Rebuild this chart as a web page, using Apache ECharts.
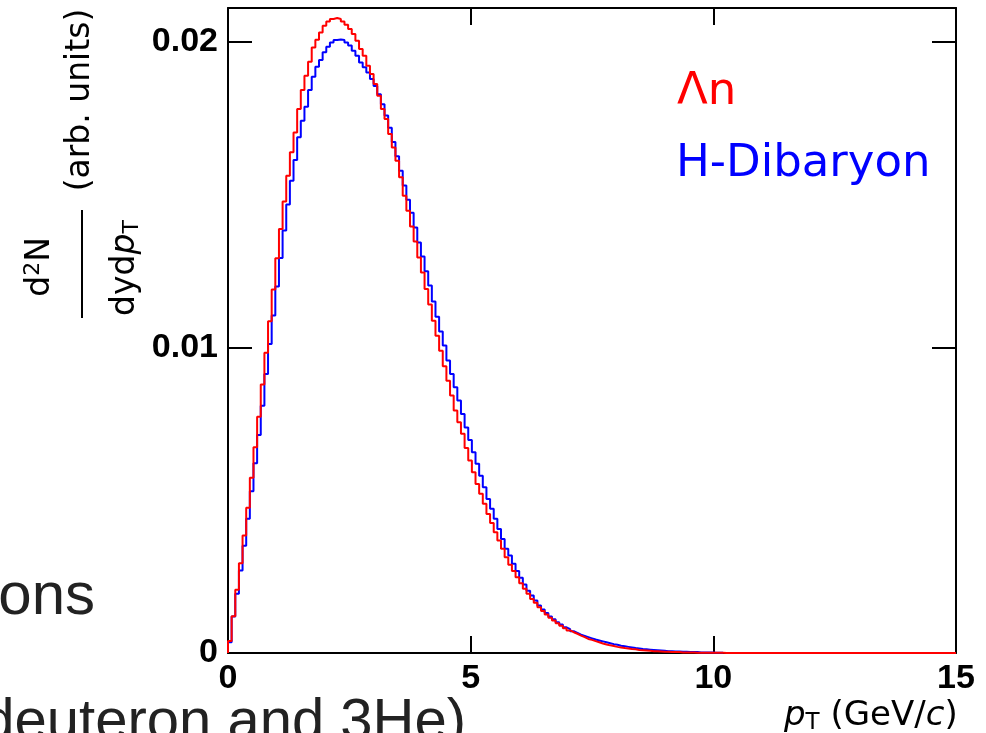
<!DOCTYPE html>
<html>
<head>
<meta charset="utf-8">
<script src="https://cdn.jsdelivr.net/npm/echarts@6/dist/echarts.min.js"></script>
<style>html,body{margin:0;padding:0;background:#fff;}#c{width:986px;height:733px;}</style>
</head>
<body>
<div id="c"></div>
<script>
// ---- data ----
const binWidth = 0.075; // GeV/c per histogram bin, bins start at pT = 0
const xTicks = [0, 5, 10, 15];
const yTicks = [0, 0.01, 0.02];
const seriesNames = ['\u039bn', 'H-Dibaryon'];

// Λn histogram contents (bins 0..199)
const lambdaN = [
  0.00039, 0.00120, 0.00207, 0.00294, 0.00384, 0.00475, 0.00573, 0.00673, 0.00773, 0.00878,
  0.00982, 0.01085, 0.01189, 0.01291, 0.01387, 0.01477, 0.01561, 0.01638, 0.01703, 0.01780,
  0.01842, 0.01888, 0.01934, 0.01981, 0.02006, 0.02030, 0.02052, 0.02066, 0.02074, 0.02077,
  0.02074, 0.02066, 0.02055, 0.02041, 0.02025, 0.02003, 0.01976, 0.01954, 0.01921, 0.01894,
  0.01861, 0.01823, 0.01780, 0.01747, 0.01698, 0.01654, 0.01610, 0.01556, 0.01496, 0.01447,
  0.01395, 0.01346, 0.01294, 0.01245, 0.01191, 0.01140, 0.01087, 0.01038, 0.00989, 0.00938,
  0.00891, 0.00842, 0.00793, 0.00755, 0.00717, 0.00671, 0.00630, 0.00591, 0.00553, 0.00521,
  0.00488, 0.00455, 0.00425, 0.00395, 0.00368, 0.00341, 0.00313, 0.00289, 0.00268, 0.00248,
  0.00228, 0.00210, 0.00194, 0.00177, 0.00164, 0.00150, 0.00137, 0.00126, 0.00115, 0.00106,
  0.00097, 0.00089, 0.00081, 0.00074, 0.00068, 0.00063, 0.00057, 0.00052, 0.00046, 0.00043,
  0.00039, 0.00035, 0.00031, 0.00028, 0.00025, 0.00023, 0.00020, 0.00018, 0.00016, 0.00015,
  0.00013, 0.00012, 0.00010, 0.00009, 0.00008, 0.00007, 0.00006, 0.00006, 0.00005, 0.00004,
  0.00004, 0.00003, 0.00003, 0.00003, 0.00002, 0.00002, 0.00002, 0.00002, 0.00001, 0.00001,
  0.00001, 0.00001, 0.00001, 0.00001, 0.00001, 0.00001, 0, 0, 0, 0,
  0, 0, 0, 0, 0, 0, 0, 0, 0, 0,
  0, 0, 0, 0, 0, 0, 0, 0, 0, 0,
  0, 0, 0, 0, 0, 0, 0, 0, 0, 0,
  0, 0, 0, 0, 0, 0, 0, 0, 0, 0,
  0, 0, 0, 0, 0, 0, 0, 0, 0, 0,
  0, 0, 0, 0, 0, 0, 0, 0, 0, 0
];

// H-Dibaryon histogram contents (bins 0..135)
const hDibaryon = [
  0.00035, 0.00119, 0.00194, 0.00270, 0.00351, 0.00439, 0.00529, 0.00621, 0.00713, 0.00809,
  0.00913, 0.01011, 0.01104, 0.01199, 0.01292, 0.01382, 0.01467, 0.01545, 0.01613, 0.01687,
  0.01741, 0.01787, 0.01842, 0.01885, 0.01918, 0.01940, 0.01965, 0.01983, 0.01997, 0.02005,
  0.02007, 0.02005, 0.01997, 0.01987, 0.01970, 0.01954, 0.01932, 0.01916, 0.01899, 0.01878,
  0.01855, 0.01828, 0.01795, 0.01758, 0.01718, 0.01672, 0.01625, 0.01578, 0.01529, 0.01483,
  0.01440, 0.01392, 0.01343, 0.01297, 0.01249, 0.01202, 0.01150, 0.01100, 0.01052, 0.01006,
  0.00957, 0.00913, 0.00869, 0.00826, 0.00782, 0.00738, 0.00697, 0.00657, 0.00619, 0.00580,
  0.00542, 0.00504, 0.00472, 0.00439, 0.00406, 0.00373, 0.00341, 0.00319, 0.00292, 0.00268,
  0.00246, 0.00224, 0.00204, 0.00188, 0.00172, 0.00155, 0.00142, 0.00131, 0.00119, 0.00110,
  0.00101, 0.00093, 0.00084, 0.00078, 0.00071, 0.00066, 0.00060, 0.00056, 0.00052, 0.00048,
  0.00044, 0.00041, 0.00038, 0.00035, 0.00032, 0.00029, 0.00027, 0.00024, 0.00022, 0.00020,
  0.00018, 0.00016, 0.00015, 0.00013, 0.00012, 0.00011, 0.00010, 0.00009, 0.00008, 0.00007,
  0.00006, 0.00006, 0.00005, 0.00005, 0.00004, 0.00004, 0.00003, 0.00003, 0.00003, 0.00002,
  0.00002, 0.00002, 0.00002, 0.00001, 0.00001, 0.00001
];

// ---- build step outlines (bin left edge, content) ----
function histPoints(vals) {
  const pts = [[0, 0]];
  vals.forEach((v, k) => pts.push([k * binWidth, v]));
  pts.push([vals.length * binWidth, vals[vals.length - 1]]);
  return pts;
}

const labelFont = { fontFamily: '"Liberation Sans", Arial, sans-serif', fontWeight: 'bold', fontSize: 34, color: '#000' };
const axisLineStyle = { color: '#000', width: 2 };

function xAx(pos, showLabel) {
  return {
    type: 'value', position: pos, min: 0, max: 15, interval: 5,
    axisLine: { show: true, onZero: false, lineStyle: axisLineStyle },
    axisTick: { show: true, inside: true, length: 17, lineStyle: axisLineStyle },
    axisLabel: Object.assign({ show: showLabel, margin: 9,
      formatter: v => (xTicks.includes(v) ? String(v) : '') }, labelFont),
    splitLine: { show: false }
  };
}
function yAx(pos, showLabel) {
  return {
    type: 'value', position: pos, min: 0, max: 0.0211, interval: 0.01,
    axisLine: { show: true, onZero: false, lineStyle: axisLineStyle },
    axisTick: { show: true, inside: true, length: 24, lineStyle: axisLineStyle },
    axisLabel: Object.assign({ show: showLabel, margin: 10,
      formatter: v => { const t = yTicks.find(y => Math.abs(y - v) < 1e-9); return t === undefined ? '' : String(t); } }, labelFont),
    splitLine: { show: false }
  };
}

const chart = echarts.init(document.getElementById('c'), null, { renderer: 'canvas' });
const dv = '"DejaVu Sans", Verdana, sans-serif';
const option = {
  animation: false,
  backgroundColor: '#ffffff',
  grid: { left: 228, right: 30, top: 8, bottom: 80, containLabel: false },
  xAxis: [xAx('bottom', true), xAx('top', false)],
  yAxis: [yAx('left', true), yAx('right', false)],
  series: [
    { name: seriesNames[1], type: 'line', step: 'end', showSymbol: false, symbol: 'none',
      xAxisIndex: 0, yAxisIndex: 0, data: histPoints(hDibaryon),
      lineStyle: { color: '#0000ff', width: 2 }, z: 2 },
    { name: seriesNames[0], type: 'line', step: 'end', showSymbol: false, symbol: 'none',
      xAxisIndex: 0, yAxisIndex: 0, data: histPoints(lambdaN),
      lineStyle: { color: '#ff0000', width: 2 }, z: 3 }
  ],
  graphic: [
    // background slide text
    { type: 'text', style: { text: 'ons', x: 95, y: 597, textAlign: 'right', textVerticalAlign: 'middle',
      font: '60px "Liberation Sans", Arial, sans-serif', fill: '#222' } },
    { type: 'text', style: { text: 'deuteron and 3He)', x: 466, y: 723, textAlign: 'right', textVerticalAlign: 'middle',
      font: '58px "Liberation Sans", Arial, sans-serif', fill: '#222' } },
    // legend-like labels
    { type: 'text', style: { text: seriesNames[0], x: 677, y: 92, textAlign: 'left', textVerticalAlign: 'middle',
      font: '45px ' + dv, fill: '#ff0000' } },
    { type: 'text', style: { text: seriesNames[1], x: 676, y: 164, textAlign: 'left', textVerticalAlign: 'middle',
      font: '45px ' + dv, fill: '#0000ff' } },
    // x axis title
    { type: 'text', style: { text: '{i|p}{s|T} (GeV/{i|c})', x: 784, y: 716, textAlign: 'left', textVerticalAlign: 'middle',
      font: '34px ' + dv, fill: '#000',
      rich: { i: { fontStyle: 'italic', fontSize: 34, fontFamily: 'DejaVu Sans' },
              s: { fontSize: 23, fontFamily: 'DejaVu Sans', padding: [15, 0, 0, 0] } } } },
    // y axis title (rotated)
    { type: 'group', x: 0, y: 330, rotation: Math.PI / 2, children: [
      { type: 'text', style: { text: '(arb. units)', x: 230, y: 80, textAlign: 'center', textVerticalAlign: 'middle',
        font: '33px ' + dv, fill: '#000' } },
      { type: 'line', shape: { x1: 12, y1: 82, x2: 120, y2: 82 }, style: { stroke: '#000', lineWidth: 2 } },
      { type: 'text', style: { text: 'd{u|2}N', x: 63, y: 40, textAlign: 'center', textVerticalAlign: 'middle',
        font: '33px ' + dv, fill: '#000',
        rich: { u: { fontSize: 22, fontFamily: 'DejaVu Sans', padding: [0, 0, 14, 0] } } } },
      { type: 'text', style: { text: 'dyd{i|p}{s|T}', x: 62, y: 125, textAlign: 'center', textVerticalAlign: 'middle',
        font: '33px ' + dv, fill: '#000',
        rich: { i: { fontStyle: 'italic', fontSize: 33, fontFamily: 'DejaVu Sans' },
                s: { fontSize: 22, fontFamily: 'DejaVu Sans', padding: [14, 0, 0, 0] } } } }
    ] }
  ]
};
chart.setOption(option);
</script>
</body>
</html>
